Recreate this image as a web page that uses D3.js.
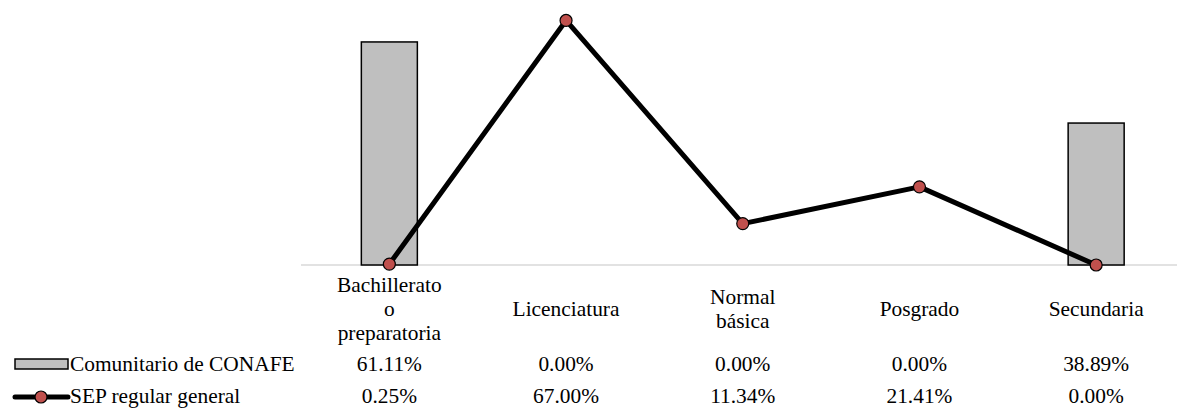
<!DOCTYPE html>
<html>
<head>
<meta charset="utf-8">
<script src="https://cdn.jsdelivr.net/npm/d3@7"></script>
<style>
  html, body { margin: 0; padding: 0; background: #fff; }
  svg { display: block; }
  svg text { font-family: "Liberation Serif", "Times New Roman", "DejaVu Serif", serif; fill: #000; }
</style>
</head>
<body>
<svg id="chart" width="1177" height="408"></svg>
<script>
const categories = [["Bachillerato", "o", "preparatoria"], ["Licenciatura"], ["Normal", "básica"], ["Posgrado"], ["Secundaria"]];
const categoryKeys = ["Bachillerato o preparatoria", "Licenciatura", "Normal básica", "Posgrado", "Secundaria"];
const seriesNames = ["Comunitario de CONAFE", "SEP regular general"];
const conafe = [61.11, 0.00, 0.00, 0.00, 38.89];
const sep = [0.25, 67.00, 11.34, 21.41, 0.00];

const FONT = "'Liberation Serif', 'Times New Roman', serif";
const svg = d3.select("#chart");
const x = d3.scaleBand().domain(categoryKeys).range([301, 1184.5]);
const y = d3.scaleLinear().domain([0, 70]).range([265, 9.5]);
const barW = x.bandwidth() * 0.317;
const cx = k => x(k) + x.bandwidth() / 2;
const fontSize = 21.4;

// axis line
svg.append("line")
  .attr("x1", 301).attr("x2", 1177)
  .attr("y1", y(0)).attr("y2", y(0))
  .attr("stroke", "#D9D9D9").attr("stroke-width", 1.5);

// bars
svg.selectAll("rect.bar").data(conafe).enter().append("rect")
  .attr("class", "bar")
  .attr("x", (d, i) => cx(categoryKeys[i]) - barW / 2)
  .attr("y", d => y(d))
  .attr("width", barW)
  .attr("height", d => y(0) - y(d))
  .attr("fill", "#BFBFBF")
  .attr("stroke", "#000")
  .attr("stroke-width", 1.5)
  .style("display", d => d > 0 ? null : "none");

// line
const line = d3.line().x((d, i) => cx(categoryKeys[i])).y(d => y(d));
svg.append("path").datum(sep)
  .attr("d", line)
  .attr("fill", "none").attr("stroke", "#000").attr("stroke-width", 5)
  .attr("stroke-linejoin", "round");
svg.selectAll("circle.pt").data(sep).enter().append("circle")
  .attr("class", "pt")
  .attr("cx", (d, i) => cx(categoryKeys[i]))
  .attr("cy", d => y(d))
  .attr("r", 6)
  .attr("fill", "#C0504D").attr("stroke", "#000").attr("stroke-width", 1.2);

// category labels
const lineH = 24;
categories.forEach((lines, i) => {
  const center = 309;
  const t = svg.append("text")
    .attr("text-anchor", "middle")
    .attr("font-family", FONT)
    .attr("font-size", fontSize);
  lines.forEach((ln, j) => {
    t.append("tspan")
      .attr("x", cx(categoryKeys[i]))
      .attr("y", center + 7 + (j - (lines.length - 1) / 2) * lineH)
      .text(ln);
  });
});

// data table rows
const fmt = d => d.toFixed(2) + "%";
const rows = [conafe, sep];
const rowY = [371, 403];
rows.forEach((vals, r) => {
  vals.forEach((v, i) => {
    svg.append("text")
      .attr("x", cx(categoryKeys[i]))
      .attr("y", rowY[r])
      .attr("text-anchor", "middle")
      .attr("font-family", FONT)
      .attr("font-size", fontSize)
      .text(fmt(v));
  });
  svg.append("text")
    .attr("x", 70).attr("y", rowY[r])
    .attr("font-family", FONT)
    .attr("font-size", fontSize)
    .text(seriesNames[r]);
});

// legend keys
svg.append("rect")
  .attr("x", 15).attr("y", 359).attr("width", 53).attr("height", 10)
  .attr("fill", "#BFBFBF").attr("stroke", "#000").attr("stroke-width", 1.5);
svg.append("line")
  .attr("x1", 15).attr("x2", 68).attr("y1", 397).attr("y2", 397)
  .attr("stroke", "#000").attr("stroke-width", 5).attr("stroke-linecap", "round");
svg.append("circle")
  .attr("cx", 41).attr("cy", 397).attr("r", 6)
  .attr("fill", "#C0504D").attr("stroke", "#000").attr("stroke-width", 1.2);
</script>
</body>
</html>
